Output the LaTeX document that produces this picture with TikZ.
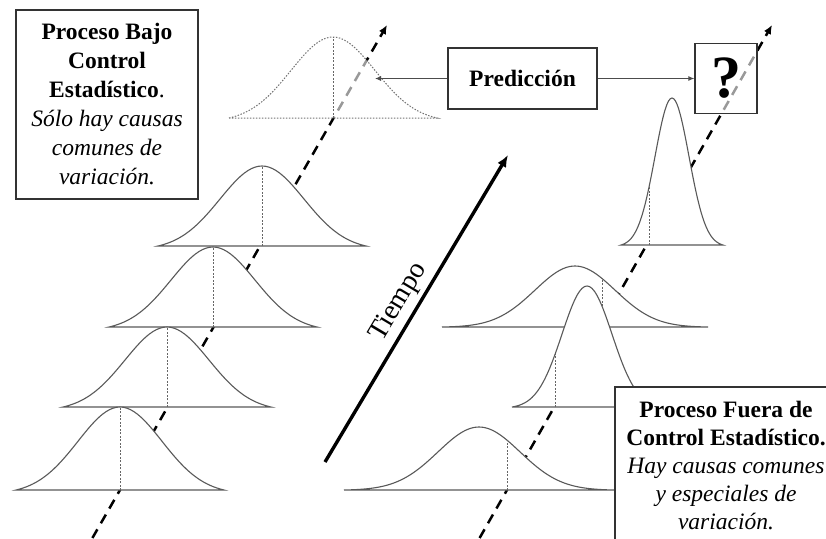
\documentclass[tikz,border=0pt]{standalone}
\usepackage{fontspec}
\setmainfont{Liberation Serif}
\usetikzlibrary{arrows.meta}
\newcommand{\boxfont}{\fontsize{23.5}{29}\selectfont}
% bell: [style]{mean x}{baseline y}{height}{sigma}{half width}{x of dotted line}
\newcommand{\bell}[7][curve]{%
  \pgfmathsetmacro{\bellc}{exp(-0.5*(#6/#5)*(#6/#5))}%
  \pgfmathsetmacro{\bellm}{#3-#4*(exp(-0.5*((#7-#2)/#5)*((#7-#2)/#5))-\bellc)/(1-\bellc)}%
  \draw[#1] plot[domain=-#6:#6,samples=61,smooth] ({#2+\x},{#3-#4*(exp(-0.5*(\x/#5)*(\x/#5))-\bellc)/(1-\bellc)}) -- cycle;
  \draw[meanline] (#7,#3) -- (#7,\bellm);
}
\tikzset{
  curve/.style={draw=black!65,line width=1.1pt,fill=white},
  predcurve/.style={draw=black!55,line width=1pt,dash pattern=on 1.5pt off 1.5pt,fill=white,fill opacity=0.6},
  meanline/.style={draw=black!60,line width=0.8pt,dash pattern=on 2pt off 1.5pt},
  timeaxis/.style={line width=2.5pt,dash pattern=on 10pt off 7pt,-{Latex[length=9pt,width=8pt]}},
  textbox/.style={draw=black!80,line width=1.4pt,fill=white,align=center,font=\boxfont,inner sep=0pt},
  link/.style={draw=black!70,line width=0.9pt,-{Latex[length=6pt,width=5pt]}}
}

\begin{document}
\begin{tikzpicture}[x=1pt,y=-1pt]
\useasboundingbox (0,0) rectangle (826,538);
\clip (0,0) rectangle (826,538);
% dashed time axes of both processes
\coordinate (la0) at (92.4,538); \coordinate (la1) at (387,25);
\coordinate (ra0) at (479.6,538); \coordinate (ra1) at (772,25);
\draw[timeaxis] (la0) -- (la1);
\draw[timeaxis] (ra0) -- (ra1);
% predicted distribution (dotted)
\bell[predcurve]{333}{118}{81}{42}{104}{333}
% in control: mean on the axis
\bell{262}{246}{80}{42}{104}{262}
\bell{213}{327}{80}{42}{104}{213}
\bell{167}{407}{80}{42}{104}{167}
\bell{120}{490}{83}{42}{104}{120}
% out of control: mean and spread move
\bell{672}{245}{147}{17}{51}{649}
\bell{575}{327}{61}{40}{133}{602}
\bell{587}{407}{121}{25}{75}{555}
\bell{479}{490}{63}{41}{135}{507}
% time arrow
\coordinate (t0) at (325,462); \coordinate (t1) at (508,155);
\draw[line width=3.4pt,-{Latex[length=12pt,width=10pt]}] (t0) -- node[sloped,above=1pt,pos=0.49,font=\fontsize{28}{30}\selectfont] {Tiempo} (t1);
% boxes
\node[textbox,minimum width=182,minimum height=189] (bajo) at (107,104.5)
  {\textbf{Proceso Bajo}\\ \textbf{Control}\\ \textbf{Estadístico}.\\ \textit{Sólo hay causas}\\ \textit{comunes de}\\ \textit{variación.}};
\node[textbox,minimum width=149,minimum height=61] (pred) at (522.5,78.5) {\textbf{Predicción}};
\node[textbox,minimum width=62,minimum height=70,fill opacity=0.6,text opacity=1,font=\fontsize{60}{60}\selectfont] (quest) at (726,78.5) {\textbf{?}};
\node[textbox,minimum width=222,minimum height=158,font=\fontsize{23.5}{28}\selectfont] (fuera) at (726,466)
  {\textbf{Proceso Fuera de}\\ \textbf{Control Estadístico.}\\ \textit{Hay causas comunes}\\ \textit{y especiales de}\\ \textit{variación.}};
% prediction links
\coordinate (predtip) at (375,78.5);
\draw[link] (pred.west) -- (predtip);
\draw[link] (pred.east) -- (quest.west);
\end{tikzpicture}
\end{document}
